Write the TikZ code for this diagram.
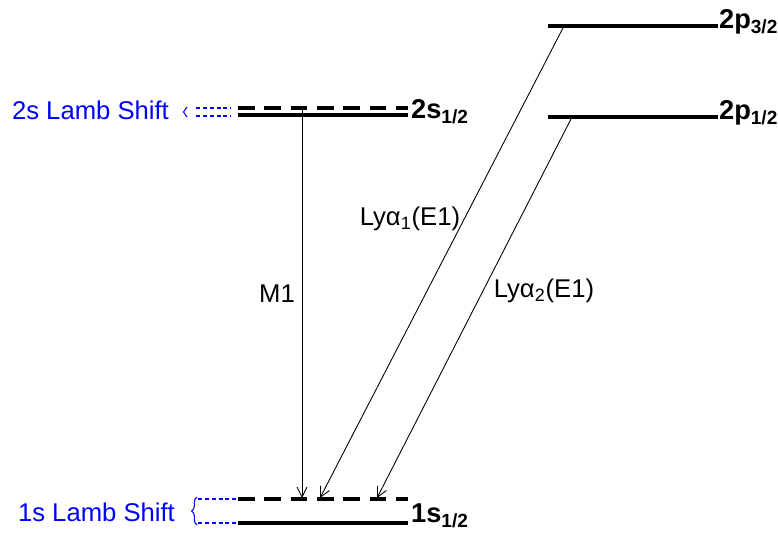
\documentclass[tikz,border=0pt]{standalone}
\usepackage{fontspec}
\setmainfont{Liberation Sans}
\usetikzlibrary{arrows.meta,decorations.pathreplacing}

\begin{document}
\begin{tikzpicture}[
  x=0.02cm, y=-0.02cm,
  font=\fontsize{14.6}{17}\selectfont,
  >={Straight Barb[length=2mm,width=2mm]},
  lvl/.style={line width=1.9pt},
  lvldash/.style={line width=1.9pt, dash pattern=on 9.5pt off 5.5pt},
  trans/.style={->, line width=0.5pt},
  lamb/.style={blue, line width=0.6pt, dash pattern=on 2.3pt off 1.6pt},
  lambbrace/.style={blue, line width=0.6pt, decorate},
  lbl/.style={font=\fontsize{15.5}{17}\selectfont\bfseries, anchor=west, inner sep=1pt},
  tlbl/.style={inner sep=1pt}
]
\useasboundingbox (0,0) rectangle (778,536);

% energy levels
\coordinate (s2dL) at (238,108); \coordinate (s2dR) at (408,108);
\coordinate (s2L)  at (238,115); \coordinate (s2R)  at (408,115);
\coordinate (s1dL) at (238,499); \coordinate (s1dR) at (408,499);
\coordinate (s1L)  at (238,523); \coordinate (s1R)  at (408,523);
\coordinate (p3L)  at (548,26);  \coordinate (p3R)  at (718,26);
\coordinate (p1L)  at (548,117); \coordinate (p1R)  at (718,117);

\draw[lvldash] (s2dL) -- (s2dR);
\draw[lvl]     (s2L) -- (s2R);
\draw[lvldash] (s1dL) -- (s1dR);
\draw[lvl]     (s1L) -- (s1R);
\draw[lvl]     (p3L) -- (p3R);
\draw[lvl]     (p1L) -- (p1R);

\node[lbl] (s2lab) at (409,112) {2s\textsubscript{1/2}};
\node[lbl] (s1lab) at (409,516) {1s\textsubscript{1/2}};
\node[lbl] (p3lab) at (717,22)  {2p\textsubscript{3/2}};
\node[lbl] (p1lab) at (717,113) {2p\textsubscript{1/2}};

% transitions
\coordinate (m1a) at (302,108);  \coordinate (m1b) at (302,498);
\coordinate (ly1a) at (564,26);  \coordinate (ly1b) at (320,498);
\coordinate (ly2a) at (572,117); \coordinate (ly2b) at (377,498);

\draw[trans] (m1a) -- (m1b);
\draw[trans] (ly1a) -- (ly1b);
\draw[trans] (ly2a) -- (ly2b);

\node[tlbl] (m1lab)  at (277,294) {M1};
\node[tlbl] (ly1lab) at (410,219) {Lyα\textsubscript{1}(E1)};
\node[tlbl] (ly2lab) at (544,291) {Lyα\textsubscript{2}(E1)};

% Lamb shifts
\node[blue, anchor=east, tlbl] (lamb2) at (171,110) {2s Lamb Shift};
\node[blue, anchor=east, tlbl] (lamb1) at (177,512) {1s Lamb Shift};

\draw[lamb] (196,108) -- (231,108);
\draw[lamb] (196,116) -- (231,116);
\draw[lambbrace, decoration={brace, amplitude=2pt}] (187,117) -- (187,107);

\draw[lamb] (198,499) -- (237,499);
\draw[lamb] (198,523) -- (237,523);
\draw[lambbrace, decoration={brace, amplitude=3pt}] (197,525) -- (197,497);

\end{tikzpicture}
\end{document}
